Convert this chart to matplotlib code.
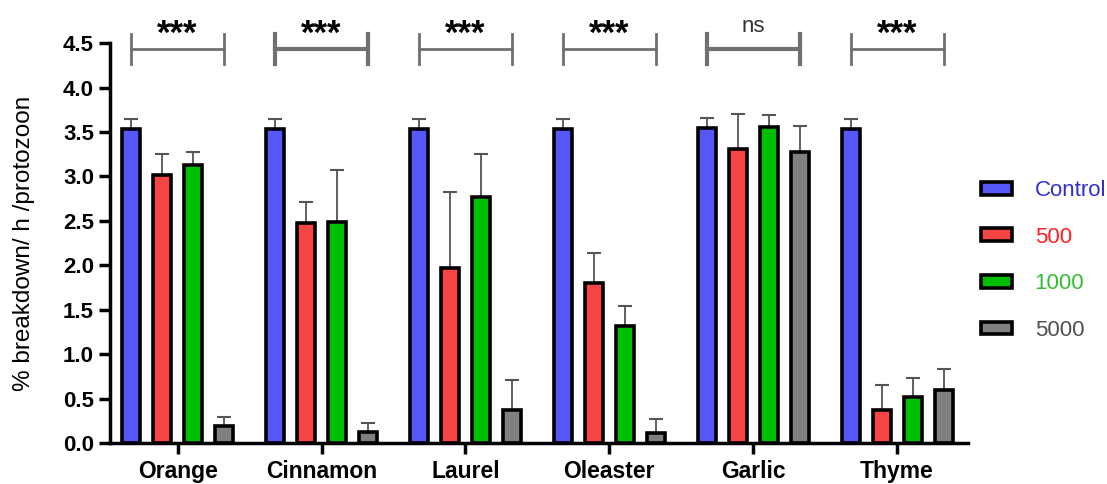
import matplotlib
matplotlib.use("Agg")
import matplotlib.pyplot as plt
import numpy as np
from matplotlib.patches import Patch

plt.rcParams['font.family'] = ['Liberation Sans', 'DejaVu Sans']

categories = ["Orange", "Cinnamon", "Laurel", "Oleaster", "Garlic", "Thyme"]
series = ["Control", "500", "1000", "5000"]
control = [3.53, 3.53, 3.53, 3.53, 3.54, 3.53]
c500 = [3.01, 2.47, 1.97, 1.80, 3.31, 0.37]
c1000 = [3.13, 2.49, 2.77, 1.32, 3.56, 0.52]
c5000 = [0.19, 0.12, 0.37, 0.11, 3.28, 0.60]
err_control = [0.12, 0.12, 0.12, 0.12, 0.12, 0.12]
err500 = [0.24, 0.24, 0.85, 0.34, 0.39, 0.28]
err1000 = [0.14, 0.58, 0.48, 0.22, 0.13, 0.21]
err5000 = [0.10, 0.10, 0.34, 0.16, 0.29, 0.23]
significance = ["***", "***", "***", "***", "ns", "***"]

colors = ["#5757f7", "#f74444", "#00bf00", "#808080"]
text_colors = ["#3030d0", "#ff2020", "#30c030", "#505050"]

values = [control, c500, c1000, c5000]
errors = [err_control, err500, err1000, err5000]

fig = plt.figure(figsize=(11.07, 4.84), dpi=100)
ax = fig.add_axes([0.0994, 0.0847, 0.8741 - 0.0994, 0.911 - 0.0847])

x = np.arange(len(categories))
spacing = 0.215
width = 0.125
offsets = (np.arange(4) - 1.5) * spacing
for i in range(4):
    xs = x + offsets[i]
    ax.errorbar(xs, values[i], yerr=[np.zeros(len(xs)), errors[i]], fmt='none',
                ecolor='#555555', elinewidth=1.3, capsize=5, capthick=1.5, zorder=1)
    ax.bar(xs, values[i], width=width, color=colors[i], edgecolor='black',
           linewidth=2.6, zorder=2)

# significance brackets
for j, s in enumerate(categories):
    x0 = x[j] + offsets[0]
    x1 = x[j] + offsets[3]
    lw = 3 if j in (1, 4) else 2
    ax.plot([x0, x1], [4.43, 4.43], color='#707070', lw=lw, clip_on=False, zorder=3)
    ax.plot([x0, x0], [4.27, 4.6], color='#707070', lw=lw, clip_on=False, zorder=3)
    ax.plot([x1, x1], [4.27, 4.6], color='#707070', lw=lw, clip_on=False, zorder=3)
    if significance[j] == "ns":
        ax.text((x0 + x1) / 2, 4.57, significance[j], ha='center', va='bottom',
                fontsize=16, color='#333333')
    else:
        ax.text((x0 + x1) / 2, 4.41, significance[j], ha='center', va='bottom',
                fontsize=25, fontweight='bold', color='black')

ax.set_xlim(-0.47, 5.49)
ax.set_ylim(0, 4.5)
ax.set_yticks(np.arange(0, 4.51, 0.5))
ax.set_yticklabels([f"{v:.1f}" for v in np.arange(0, 4.51, 0.5)], fontsize=16, fontweight='bold')
ax.set_xticks(x)
ax.set_xticklabels(categories, fontsize=16.5, fontweight='bold')
ax.tick_params(axis='both', width=2.5, length=8, direction='out')
ax.tick_params(axis='x', pad=4)
for sp in ['top', 'right']:
    ax.spines[sp].set_visible(False)
for sp in ['left', 'bottom']:
    ax.spines[sp].set_linewidth(2.5)
ax.set_ylabel("% breakdown/ h /protozoon", fontsize=17.5)
ax.yaxis.set_label_coords(-0.088, 0.5)

handles = [Patch(facecolor=colors[i], edgecolor='black', linewidth=2.6) for i in range(4)]
leg = fig.legend(handles, series, loc='center left', bbox_to_anchor=(0.8865, 0.462),
                 frameon=False, fontsize=16, handlelength=1.4, handleheight=0.5,
                 labelspacing=1.15, handletextpad=1.0, borderpad=0, borderaxespad=0)
for t, c in zip(leg.get_texts(), text_colors):
    t.set_color(c)

fig.savefig("out.png", dpi=100)
